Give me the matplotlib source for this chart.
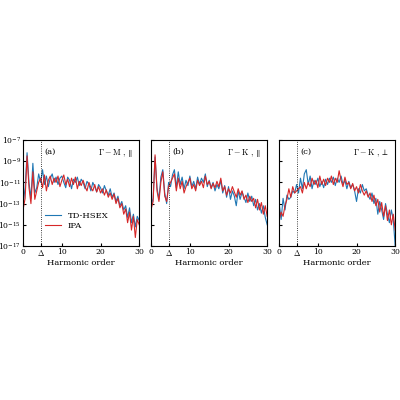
import numpy as np
import matplotlib.pyplot as plt

plt.rcParams['font.family'] = 'DejaVu Serif'
plt.rcParams['mathtext.fontset'] = 'cm'
plt.rcParams['font.size'] = 6

# harmonic order grid (0.5 steps) and log10 of the intensity
order = np.arange(0, 30.5, 0.5)
delta = 4.6

a_hsex = [-13.0, -11.5, -8.2, -11.0, -12.5, -9.2, -12.0, -11.5, -10.2, -11.0, -9.8, -11.2, -10.4, -11.4, -10.6,
          -10.2, -11.0, -10.5, -11.2, -10.6, -10.4, -11.0, -11.5, -10.5, -10.8, -11.6, -10.7, -11.0, -10.5, -11.3,
          -10.7, -11.0, -11.6, -10.9, -11.2, -11.8, -11.0, -11.4, -11.9, -11.2, -11.5, -12.0, -11.3, -11.8, -12.2,
          -11.6, -12.4, -12.0, -12.8, -12.3, -13.2, -12.8, -13.6, -13.2, -14.3, -13.4, -14.8, -14.0, -15.2, -14.2, -14.6]
a_ipa = [-13.5, -12.5, -8.5, -11.5, -13.0, -10.0, -12.6, -11.8, -11.0, -10.6, -11.5, -10.3, -11.8, -10.8, -10.4,
         -11.2, -10.6, -11.0, -10.4, -11.4, -10.8, -10.3, -11.2, -10.7, -11.4, -10.6, -11.2, -10.5, -11.6, -10.9,
         -11.3, -10.8, -11.4, -11.8, -11.0, -11.5, -11.8, -11.2, -11.9, -11.4, -12.0, -11.6, -12.2, -11.7, -12.4,
         -12.0, -12.6, -12.1, -13.0, -12.5, -13.4, -13.0, -14.0, -13.5, -14.8, -13.8, -15.5, -14.2, -16.2, -14.5, -15.0]

b_hsex = [-13.2, -12.5, -8.6, -11.5, -12.6, -10.5, -9.8, -12.0, -13.0, -11.0, -11.4, -10.3, -9.8, -11.5, -10.0,
          -11.2, -10.5, -11.6, -10.8, -11.3, -10.4, -11.4, -10.9, -11.6, -10.5, -11.2, -10.6, -11.0, -10.2, -11.4,
          -10.8, -11.5, -11.0, -11.8, -11.2, -11.6, -10.8, -12.0, -11.3, -12.4, -11.4, -12.6, -11.8, -12.3, -13.2,
          -11.8, -12.6, -11.9, -12.4, -12.9, -12.0, -12.8, -12.3, -13.2, -12.6, -13.6, -13.0, -13.9, -13.2, -14.3, -15.0]
b_ipa = [-13.5, -12.8, -8.4, -11.8, -12.8, -11.0, -10.0, -12.3, -12.8, -11.4, -11.0, -10.6, -10.2, -11.8, -10.6,
         -11.6, -10.9, -12.0, -11.4, -11.0, -10.6, -11.6, -11.2, -11.8, -10.8, -11.3, -10.9, -11.5, -10.4, -11.2,
         -10.9, -11.6, -11.1, -11.5, -10.9, -11.4, -10.6, -11.8, -11.4, -12.2, -11.6, -12.0, -11.4, -11.9, -12.4,
         -11.6, -12.2, -11.8, -12.6, -12.2, -12.9, -12.3, -12.8, -12.5, -13.4, -12.6, -13.6, -12.9, -14.0, -13.2, -14.2]

c_hsex = [-13.0, -14.5, -12.5, -13.6, -12.2, -12.6, -12.4, -11.8, -12.0, -11.2, -12.0, -10.6, -11.6, -10.2, -9.8,
          -11.2, -10.4, -11.6, -10.8, -11.2, -10.6, -11.4, -10.9, -11.5, -10.7, -11.2, -10.6, -11.0, -10.5, -11.3,
          -10.6, -11.0, -10.4, -11.2, -10.8, -11.6, -10.9, -11.5, -11.2, -11.8, -12.8, -11.6, -12.0, -11.2, -11.8,
          -11.6, -12.2, -12.6, -12.0, -13.0, -12.5, -14.0, -12.8, -13.6, -14.5, -13.0, -14.0, -14.8, -13.6, -14.5, -17.0]
c_ipa = [-14.5, -13.8, -14.2, -13.2, -12.6, -11.6, -12.4, -11.4, -12.0, -11.8, -11.6, -11.4, -12.0, -11.0, -11.6,
         -11.0, -11.4, -10.6, -11.2, -10.8, -11.5, -10.4, -11.2, -10.7, -11.3, -10.6, -11.0, -10.4, -11.2, -10.6,
         -11.0, -9.9, -10.8, -11.4, -10.5, -11.2, -11.0, -11.6, -11.1, -11.8, -11.4, -12.0, -11.2, -11.8, -12.2,
         -11.8, -12.4, -12.0, -12.8, -12.2, -13.2, -12.6, -13.8, -12.9, -14.2, -13.2, -14.6, -13.6, -15.0, -14.0, -15.5]

panels = [("(a)", r"$\Gamma-\mathrm{M}\ ,\parallel$", a_hsex, a_ipa),
          ("(b)", r"$\Gamma-\mathrm{K}\ ,\parallel$", b_hsex, b_ipa),
          ("(c)", r"$\Gamma-\mathrm{K}\ ,\perp$", c_hsex, c_ipa)]

blue = '#1f77b4'
red = '#d62728'

fig = plt.figure(figsize=(4, 4), dpi=100)
lefts = [0.058, 0.378, 0.698]
for i, (tag, title, hsex, ipa) in enumerate(panels):
    ax = fig.add_axes([lefts[i], 0.385, 0.29, 0.265])
    ax.semilogy(order, 10.0 ** np.array(hsex), color=blue, lw=0.8, label='TD-HSEX')
    ax.semilogy(order, 10.0 ** np.array(ipa), color=red, lw=0.8, label='IPA')
    ax.axvline(delta, color='k', ls=':', lw=0.6)
    ax.set_xlim(0, 30)
    ax.set_ylim(1e-17, 1e-7)
    ax.set_xticks([0, delta, 10, 20, 30])
    ax.set_xticklabels(['0', r'$\Delta$', '10', '20', '30'])
    ax.set_yticks([1e-17, 1e-15, 1e-13, 1e-11, 1e-9, 1e-7])
    ax.minorticks_off()
    ax.tick_params(direction='in', length=2, pad=1.5, labelsize=5.5)
    if i > 0:
        ax.set_yticklabels([])
    ax.set_xlabel('Harmonic order', fontsize=6, labelpad=1)
    ax.text(0.18, 0.93, tag, transform=ax.transAxes, va='top', fontsize=6)
    ax.text(0.95, 0.93, title, transform=ax.transAxes, va='top', ha='right', fontsize=6)
    if i == 0:
        ax.legend(loc='lower left', bbox_to_anchor=(0.12, 0.08), frameon=False, fontsize=6,
                  handlelength=2, labelspacing=0.3)

fig.savefig('out.png', dpi=100)
